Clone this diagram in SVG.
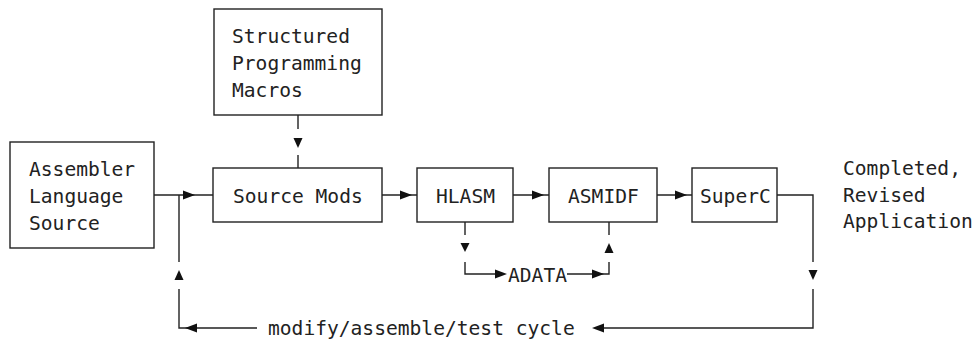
<svg xmlns="http://www.w3.org/2000/svg" width="976" height="341" viewBox="0 0 976 341">
<style>
.box{fill:#fff;stroke:#222;stroke-width:1.4}
.ln{fill:none;stroke:#222;stroke-width:1.4}
.ah{fill:#111;stroke:none}
text{font-family:"DejaVu Sans Mono","Liberation Mono",monospace;font-size:19.6px;fill:#222}
</style>
<rect width="976" height="341" fill="#fff"/>
<g id="macros">
<rect class="box" x="214" y="9" width="168" height="106"/>
<text x="232" y="43">Structured</text>
<text x="232" y="70">Programming</text>
<text x="232" y="97">Macros</text>
</g>
<g id="assembler">
<rect class="box" x="10" y="142" width="144" height="106"/>
<text x="29" y="176">Assembler</text>
<text x="29" y="203">Language</text>
<text x="29" y="230">Source</text>
</g>
<g id="sourcemods">
<rect class="box" x="213" y="168" width="169" height="54"/>
<text x="233" y="203">Source Mods</text>
</g>
<g id="hlasm">
<rect class="box" x="417" y="168" width="96" height="54"/>
<text x="436" y="203">HLASM</text>
</g>
<g id="asmidf">
<rect class="box" x="549" y="168" width="108" height="54"/>
<text x="568" y="203">ASMIDF</text>
</g>
<g id="superc">
<rect class="box" x="692" y="168" width="85" height="54"/>
<text x="700" y="203">SuperC</text>
</g>
<g id="completed">
<text x="843" y="175">Completed,</text>
<text x="843" y="202">Revised</text>
<text x="843" y="228">Application</text>
</g>
<g id="connectors">
<path class="ln" d="M298 115V129M298 155V168"/>
<polygon class="ah" points="293.5,138 302.5,138 298,148"/>
<path class="ln" d="M154 195H213"/>
<polygon class="ah" points="183,190.5 195,195 183,199.5"/>
<path class="ln" d="M382 195H417"/>
<polygon class="ah" points="400,190.5 412,195 400,199.5"/>
<path class="ln" d="M513 195H549"/>
<polygon class="ah" points="532,190.5 544,195 532,199.5"/>
<path class="ln" d="M657 195H692"/>
<polygon class="ah" points="675,190.5 687,195 675,199.5"/>
<path class="ln" d="M777 195H813V262M813 289V328H604"/>
<polygon class="ah" points="808.5,270 817.5,270 813,280"/>
<polygon class="ah" points="604,323.5 592,328 604,332.5"/>
<path class="ln" d="M257 328H179V289M179 262V195"/>
<polygon class="ah" points="197,323.5 185,328 197,332.5"/>
<polygon class="ah" points="174.5,280 183.5,280 179,270"/>
<path class="ln" d="M465 222V235M465 262V274H495M567 274H603H609V262M609 235V222"/>
<polygon class="ah" points="465,252 460.5,243 469.5,243"/>
<polygon class="ah" points="495,269.5 507,274 495,278.5"/>
<polygon class="ah" points="592,269.5 604,274 592,278.5"/>
<polygon class="ah" points="609,243 604.5,253 613.5,253"/>
<text x="508" y="282">ADATA</text>
<text x="268" y="335">modify/assemble/test cycle</text>
</g>
</svg>
